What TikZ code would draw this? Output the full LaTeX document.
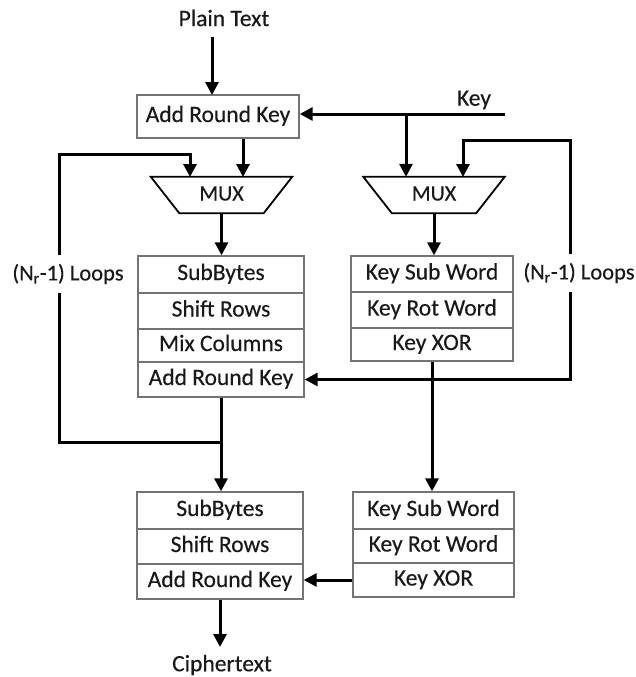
\documentclass[tikz,border=0pt]{standalone}
\usepackage{fontspec}
\setmainfont{Carlito}
\newfontfamily\dfont[FakeBold=0.35]{Carlito}
\usetikzlibrary{arrows.meta}
\begin{document}
\begin{tikzpicture}[x=1pt,y=-1pt,
  every node/.style={font=\dfont\fontsize{23.5}{28}\selectfont, text=black!90},
  cell/.style={draw=black!55, line width=1.4pt, inner sep=0pt, text height=16pt, text depth=5pt},
  conn/.style={line width=3pt, black},
  arr/.style={conn, -{Triangle[length=13pt,width=13pt]}},
  muxbox/.style={inner sep=0pt, minimum width=141pt, minimum height=36pt, font=\dfont\fontsize{22}{26}\selectfont, text height=15pt, text depth=4pt},
  muxline/.style={draw=black, line width=1.8pt, line join=miter},
  looplbl/.style={inner sep=0pt, minimum height=38pt, font=\dfont\fontsize{22.5}{26}\selectfont}
]
\useasboundingbox (0,0) rectangle (636,677);

% top
\node (pt) at (224,18) {Plain Text};
\node (key) at (474,100) {Key};
\node[cell, minimum width=162pt, minimum height=43pt] (ark1) at (218,116.5) {Add Round Key};

% muxes
\node[muxbox] (mux1) at (221.5,195) {MUX};
\node[muxbox] (mux2) at (434,195) {MUX};
\draw[muxline] (mux1.north west) -- (mux1.north east) -- ([xshift=-28.5pt]mux1.south east) -- ([xshift=28.5pt]mux1.south west) -- cycle;
\draw[muxline] (mux2.north west) -- (mux2.north east) -- ([xshift=-28.5pt]mux2.south east) -- ([xshift=28.5pt]mux2.south west) -- cycle;

% round stack
\node[cell, minimum width=166pt, minimum height=37pt] (sb1) at (221,274.5) {SubBytes};
\node[cell, minimum width=166pt, minimum height=36pt] (sr1) at (221,311) {Shift Rows};
\node[cell, minimum width=166pt, minimum height=33pt] (mc1) at (221,345.5) {Mix Columns};
\node[cell, minimum width=166pt, minimum height=35pt] (ark2) at (221,379.5) {Add Round Key};

% key stack
\node[cell, minimum width=162pt, minimum height=36pt] (ks1) at (432,274) {Key Sub Word};
\node[cell, minimum width=162pt, minimum height=36pt] (kr1) at (432,310) {Key Rot Word};
\node[cell, minimum width=162pt, minimum height=33pt] (kx1) at (432,344.5) {Key XOR};

% final round
\node[cell, minimum width=166pt, minimum height=37pt] (sb2) at (220,510.5) {SubBytes};
\node[cell, minimum width=166pt, minimum height=35pt] (sr2) at (220,546.5) {Shift Rows};
\node[cell, minimum width=166pt, minimum height=35pt] (ark3) at (220,581.5) {Add Round Key};
\node[cell, minimum width=161pt, minimum height=37pt] (ks2) at (433.5,510.5) {Key Sub Word};
\node[cell, minimum width=161pt, minimum height=34pt] (kr2) at (433.5,546) {Key Rot Word};
\node[cell, minimum width=161pt, minimum height=34pt] (kx2) at (433.5,580) {Key XOR};

\node (ct) at (222,665) {Ciphertext};

% loop labels
\node[looplbl] (loopL) at (68,274) {(N\textsubscript{r}-1) Loops};
\node[looplbl] (loopR) at (579,273) {(N\textsubscript{r}-1) Loops};

% coordinates
\coordinate (pa0) at (212,37);
\coordinate (pa1) at (212,95);
\coordinate (keyin) at (505,114);
\coordinate (kb) at (406,114);
\coordinate (m1a) at (190,177);
\coordinate (m1b) at (243,177);
\coordinate (m2b) at (463,177);
\coordinate (lt) at (59,154);
\coordinate (lb) at (59,442);
\coordinate (rt) at (570,140);
\coordinate (ca) at (220,647);

% connectors
\draw[arr] (pa0) -- (pa1);
\draw[arr] (keyin) -- (keyin -| ark1.east);
\draw[arr] (kb) -- (kb |- mux2.north);
\draw[arr] (m1b |- ark1.south) -- (m1b);
\draw[arr] (loopL.north -| lt) -- (lt) -| (m1a);
\draw[arr] (loopR.north -| rt) -- (rt) -| (m2b);
\draw[arr] (mux1.south) -- (mux1.south |- sb1.north);
\draw[arr] (mux2.south) -- (mux2.south |- ks1.north);
\draw[arr] (loopR.south -| rt) |- (ark2.east);
\draw[conn] (loopL.south -| lt) -- (lb) -- (lb -| ark2.south);
\draw[arr] (ark2.south) -- (ark2.south |- sb2.north);
\draw[arr] (kx1.south) -- (kx1.south |- ks2.north);
\draw[arr] (kx2.west) -- (kx2.west -| ark3.east);
\draw[arr] (ark3.south) -- (ca);
\end{tikzpicture}
\end{document}
